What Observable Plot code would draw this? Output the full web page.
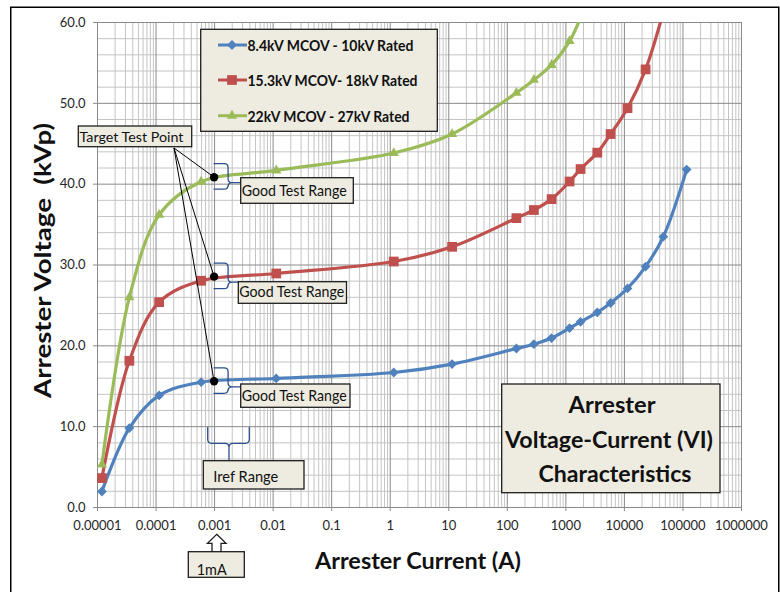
<!DOCTYPE html>
<html><head><meta charset="utf-8">
<script src="https://cdn.jsdelivr.net/npm/d3@7"></script>
<script src="https://cdn.jsdelivr.net/npm/@observablehq/plot@0.6"></script>
<style>
html,body{margin:0;padding:0;background:#fff;}
#chart{position:relative;width:780px;height:592px;overflow:hidden;}
svg text{white-space:pre;}
</style></head><body><div id="chart"></div>
<script>
// ---- data ----
const seriesNames = ["8.4kV MCOV - 10kV Rated", "15.3kV MCOV- 18kV Rated", "22kV MCOV - 27kV Rated"];
const seriesColors = ["#4F81BD", "#C0504D", "#9BBB59"];
const seriesSymbols = ["diamond2", "square", "triangle"];
const currents = [1.19e-5, 3.5e-5, 1.13e-4, 5.9e-4, 0.0113, 1.15, 11.4, 143, 284, 570, 1157, 1783, 3440, 5810, 11300, 23000, 46200, 115600];
const blueV  = [1.98, 9.82, 13.86, 15.5, 15.96, 16.7, 17.74, 19.67, 20.2, 20.96, 22.2, 22.97, 24.13, 25.3, 27.1, 29.8, 33.5, 41.8];
const redV   = [3.64, 18.15, 25.4, 28.05, 28.95, 30.43, 32.25, 35.8, 36.8, 38.15, 40.33, 41.87, 43.9, 46.2, 49.4, 54.2, 61.3, null];
const greenV = [5.3, 26.0, 36.2, 40.3, 41.7, 43.85, 46.2, 51.3, 52.9, 54.75, 57.7, 60.6, null, null, null, null, null, null];
const targetI = 0.001;
const targetV = [40.8, 28.5, 15.55];
const xTicks = [0.00001, 0.0001, 0.001, 0.01, 0.1, 1, 10, 100, 1000, 10000, 100000, 1000000];
const xTickLabels = ["0.00001", "0.0001", "0.001", "0.01", "0.1", "1", "10", "100", "1000", "10000", "100000", "1000000"];
const yTicks = [0, 10, 20, 30, 40, 50, 60];
const yTickLabels = ["0.0", "10.0", "20.0", "30.0", "40.0", "50.0", "60.0"];
const xTitle = "Arrester Current (A)";
const yTitle = "Arrester Voltage  (kVp)";
const chartTitle = ["Arrester", "Voltage-Current (VI)", "Characteristics"];

// ---- build ----
const allV = [blueV, redV, greenV];
const rows = k => currents.map((I, i) => ({I, V: allV[k][i]})).filter(d => d.V != null);
const minorX = [];
for (let e = -5; e < 6; e++) for (let m = 2; m <= 9; m++) minorX.push(m * Math.pow(10, e));
const minorY = d3.range(0, 61, 2).filter(v => v % 10 !== 0);
const xLab = new Map(xTicks.map((t, i) => [t, xTickLabels[i]]));
const yLab = new Map(yTicks.map((t, i) => [t, yTickLabels[i]]));
const radii = [4.4, 5.5, 3.8];

const plot = Plot.plot({
  width: 780, height: 592,
  marginLeft: 97, marginRight: 39, marginTop: 22, marginBottom: 85,
  style: {background: "transparent", fontFamily: "Lato, sans-serif", overflow: "visible"},
  x: {type: "log", domain: [1e-5, 1e6]},
  y: {domain: [0, 60]},
  marks: [
    Plot.ruleX(minorX, {stroke: "#c4c4c4", strokeWidth: 1}),
    Plot.ruleY(minorY, {stroke: "#c4c4c4", strokeWidth: 1}),
    Plot.ruleX(xTicks, {stroke: "#8a8a8a", strokeWidth: 1}),
    Plot.ruleY(yTicks, {stroke: "#8a8a8a", strokeWidth: 1}),
    Plot.axisX(xTicks, {tickFormat: d => xLab.get(d), tickSize: 4, tickPadding: 9, fontSize: 13, fill: "#262626", stroke: "#8a8a8a", label: null}),
    Plot.axisY(yTicks, {tickFormat: d => yLab.get(d), tickSize: 4, tickPadding: 8, fontSize: 13, fill: "#262626", stroke: "#8a8a8a", label: null}),
    ...[0, 1, 2].flatMap(k => [
      Plot.line(rows(k), {x: "I", y: "V", stroke: seriesColors[k], strokeWidth: 3.2, curve: "catmull-rom", clip: true}),
      Plot.dot(rows(k), {x: "I", y: "V", fill: seriesColors[k], symbol: seriesSymbols[k], r: radii[k], clip: true})
    ])
  ]
});
document.getElementById("chart").appendChild(plot);

const svg = d3.select(plot);
const sx = v => plot.scale("x").apply(v), sy = v => plot.scale("y").apply(v);
const BOX = "#EEECE1", EDGE = "#1e1e1e", BRACE = "#2B4F8E";
const FONT = "Lato, sans-serif";

function txt(x, y, s, o = {}) {
  const t = svg.append("text").attr("x", x).attr("y", y).text(s)
    .attr("font-family", FONT).attr("font-size", o.size || 14)
    .attr("font-weight", o.weight || "normal").attr("fill", o.fill || "#111")
    .attr("text-anchor", o.anchor || "start");
  if (o.len) t.attr("textLength", o.len).attr("lengthAdjust", "spacingAndGlyphs");
  if (o.rotate) t.attr("transform", `rotate(${o.rotate},${x},${y})`);
  return t;
}
function box(x0, y0, x1, y1) {
  svg.append("rect").attr("x", x0).attr("y", y0).attr("width", x1 - x0).attr("height", y1 - y0)
    .attr("fill", BOX).attr("stroke", EDGE).attr("stroke-width", 1.3);
}

// outer frame
svg.append("rect").attr("x", 10.75).attr("y", 7.25).attr("width", 768).attr("height", 620)
  .attr("fill", "none").attr("stroke", "#000").attr("stroke-width", 1.5);

// axis titles
txt(418, 568.5, xTitle, {size: 23, weight: "bold", anchor: "middle", len: 206});
txt(50.5, 260.5, yTitle, {size: 23, weight: "bold", anchor: "middle", len: 275, rotate: -90});

// legend
box(200.7, 29.3, 437.3, 131.3);
const legBase = [51, 86, 121.7], legLen = [166, 170, 162];
[0, 1, 2].forEach(k => {
  const cy = legBase[k] - 6;
  svg.append("line").attr("x1", 218).attr("x2", 247).attr("y1", cy).attr("y2", cy)
    .attr("stroke", seriesColors[k]).attr("stroke-width", 3);
  const sym = {diamond2: d3.symbolDiamond2, square: d3.symbolSquare, triangle: d3.symbolTriangle}[seriesSymbols[k]];
  svg.append("path").attr("d", d3.symbol(sym, Math.PI * radii[k] * radii[k])())
    .attr("transform", `translate(232,${cy})`).attr("fill", seriesColors[k]);
  txt(247.5, legBase[k], seriesNames[k], {size: 16, weight: "bold", len: legLen[k]});
});

// target test point label + leader lines
box(78.3, 126, 191.7, 146.7);
txt(79.5, 141.7, "Target Test Point", {size: 14, len: 104});
const tx = sx(targetI);
targetV.forEach(v => {
  svg.append("line").attr("x1", 174).attr("y1", 148).attr("x2", tx).attr("y2", sy(v))
    .attr("stroke", "#000").attr("stroke-width", 1);
});
targetV.forEach(v => {
  svg.append("circle").attr("cx", tx).attr("cy", sy(v)).attr("r", 4.2).attr("fill", "#000");
});

// good test range braces and boxes
function vbrace(x0, y0, y1, xv, ytip, xend) {
  const r = 4;
  const p = `M${x0},${y0} H${xv - r} Q${xv},${y0} ${xv},${y0 + r} V${ytip - r} Q${xv},${ytip} ${xv + r},${ytip} H${xend}` +
            ` M${xv + r},${ytip} Q${xv},${ytip} ${xv},${ytip + r} V${y1 - r} Q${xv},${y1} ${xv - r},${y1} H${x0}`;
  svg.append("path").attr("d", p).attr("fill", "none").attr("stroke", BRACE).attr("stroke-width", 1.3);
}
const goodBoxes = [[240.7, 177.7, 353.3, 203.3, 195.5], [238.3, 281.7, 346.5, 303.3, 297], [240.7, 384, 350, 407.3, 400.5]];
targetV.forEach((v, k) => {
  const y = sy(v), b = goodBoxes[k];
  vbrace(tx - 0.5, y - 13.5, y + 12, tx + 14, y + 5.5, b[0]);
});
goodBoxes.forEach(b => {
  box(b[0], b[1], b[2], b[3]);
  txt(b[0] + 1, b[4], "Good Test Range", {size: 16, len: 105});
});

// Iref range brace
(function () {
  const xl = 207.7, xr = 249.3, yt = 427, yb = 443.3, xm = 229, yend = 460.7, r = 4;
  const p = `M${xl},${yt} V${yb - r} Q${xl},${yb} ${xl + r},${yb} H${xm - r} Q${xm},${yb} ${xm},${yb + r} V${yend}` +
            ` M${xm},${yb + r} Q${xm},${yb} ${xm + r},${yb} H${xr - r} Q${xr},${yb} ${xr},${yb - r} V${yt}`;
  svg.append("path").attr("d", p).attr("fill", "none").attr("stroke", BRACE).attr("stroke-width", 1.3);
})();
box(203.3, 460.7, 304, 489);
txt(213.3, 482, "Iref Range", {size: 16, len: 65});

// 1mA arrow + box
svg.append("polygon")
  .attr("points", [[216.7, 534.3], [226, 543.3], [221, 543.3], [221, 552], [212, 552], [212, 543.3], [207.5, 543.3]].map(p => p.join(",")).join(" "))
  .attr("fill", "#fff").attr("stroke", EDGE).attr("stroke-width", 1.3);
box(188.3, 551.7, 244.3, 577.3);
txt(196.7, 575, "1mA", {size: 16, len: 30});

// title box
box(501.7, 384, 720, 492.7);
txt(612, 412.7, chartTitle[0], {size: 23, weight: "bold", anchor: "middle", len: 87});
txt(609, 448.3, chartTitle[1], {size: 23, weight: "bold", anchor: "middle", len: 208});
txt(615, 481.7, chartTitle[2], {size: 23, weight: "bold", anchor: "middle", len: 153});
</script></body></html>
